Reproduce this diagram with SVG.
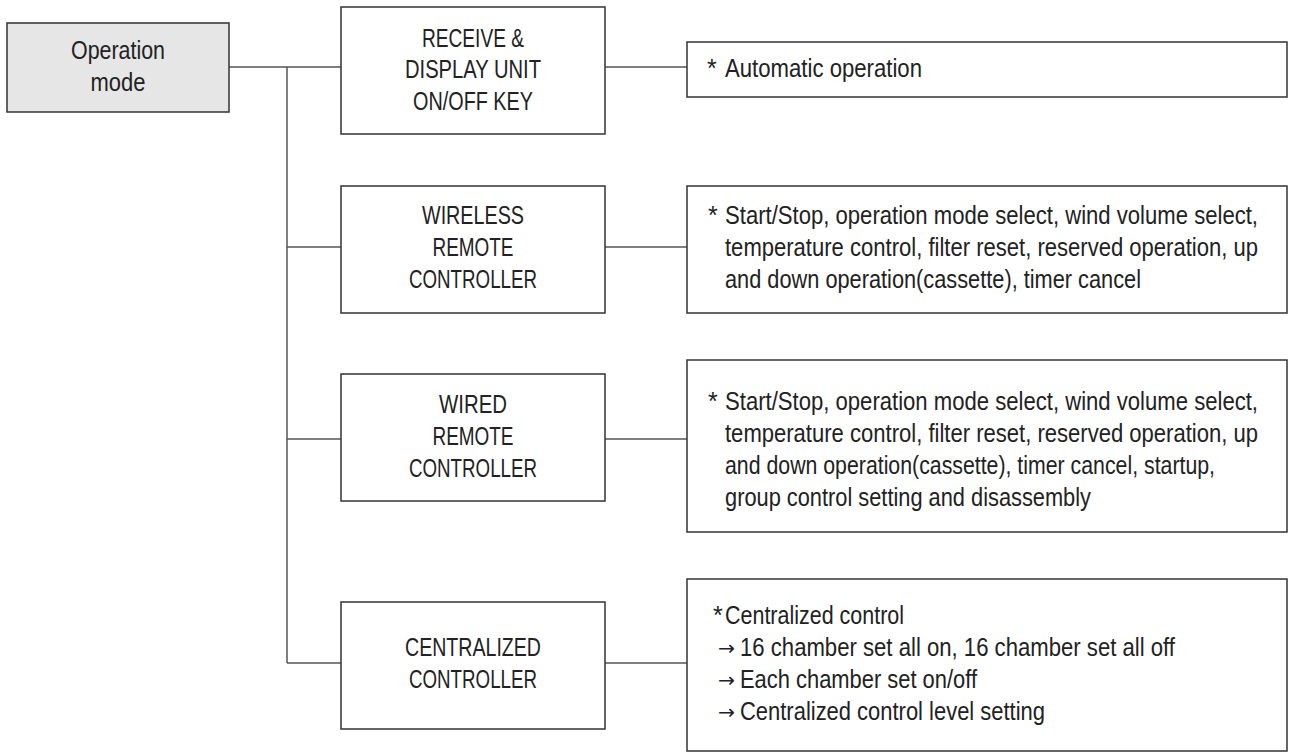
<svg xmlns="http://www.w3.org/2000/svg" width="1289" height="752" viewBox="0 0 1289 752">
<style>
.box{fill:#ffffff;stroke:#333333;stroke-width:1.5}
.root{fill:#e6e6e6;stroke:#333333;stroke-width:1.5}
.c{fill:none;stroke:#555555;stroke-width:1.5}
.nt{font-family:"Liberation Sans",Arial,sans-serif;font-size:26px;fill:#222222;text-anchor:middle}
.dt{font-family:"Liberation Sans",Arial,sans-serif;font-size:25px;fill:#222222}
.ar{font-family:"DejaVu Sans",sans-serif;font-size:20px;fill:#222222}
</style>
<rect width="1289" height="752" fill="#ffffff"/>
<g id="connectors">
<path class="c" d="M229 67H341M287 67V663M287 247H341M287 439H341M287 663H341"/>
<path class="c" d="M605 67H687M605 247H687M605 439H687M605 663H687"/>
</g>
<g id="operation-mode">
<rect class="root" x="7" y="23" width="222" height="89"/>
<text class="nt" x="118" y="59" textLength="94" lengthAdjust="spacingAndGlyphs">Operation</text>
<text class="nt" x="118" y="91" textLength="55" lengthAdjust="spacingAndGlyphs">mode</text>
</g>
<g id="receive-display">
<rect class="box" x="341" y="7" width="264" height="127"/>
<text class="nt" x="473" y="47" textLength="102" lengthAdjust="spacingAndGlyphs">RECEIVE &amp;</text>
<text class="nt" x="473" y="78" textLength="136" lengthAdjust="spacingAndGlyphs">DISPLAY UNIT</text>
<text class="nt" x="473" y="110" textLength="120" lengthAdjust="spacingAndGlyphs">ON/OFF KEY</text>
</g>
<g id="wireless">
<rect class="box" x="341" y="186" width="264" height="127"/>
<text class="nt" x="473" y="224" textLength="102" lengthAdjust="spacingAndGlyphs">WIRELESS</text>
<text class="nt" x="473" y="256" textLength="81" lengthAdjust="spacingAndGlyphs">REMOTE</text>
<text class="nt" x="473" y="288" textLength="128" lengthAdjust="spacingAndGlyphs">CONTROLLER</text>
</g>
<g id="wired">
<rect class="box" x="341" y="374" width="264" height="127"/>
<text class="nt" x="473" y="413" textLength="68" lengthAdjust="spacingAndGlyphs">WIRED</text>
<text class="nt" x="473" y="445" textLength="81" lengthAdjust="spacingAndGlyphs">REMOTE</text>
<text class="nt" x="473" y="477" textLength="128" lengthAdjust="spacingAndGlyphs">CONTROLLER</text>
</g>
<g id="centralized">
<rect class="box" x="341" y="602" width="264" height="127"/>
<text class="nt" x="473" y="656" textLength="136" lengthAdjust="spacingAndGlyphs">CENTRALIZED</text>
<text class="nt" x="473" y="688" textLength="128" lengthAdjust="spacingAndGlyphs">CONTROLLER</text>
</g>
<g id="desc-auto">
<rect class="box" x="687" y="42" width="600" height="55"/>
<text class="dt" x="707" y="77">*</text>
<text class="dt" x="725" y="77" textLength="197" lengthAdjust="spacingAndGlyphs">Automatic operation</text>
</g>
<g id="desc-wireless">
<rect class="box" x="687" y="186" width="600" height="127"/>
<text class="dt" x="708" y="224">*</text>
<text class="dt" x="725" y="224" textLength="533" lengthAdjust="spacingAndGlyphs">Start/Stop, operation mode select, wind volume select,</text>
<text class="dt" x="725" y="256" textLength="533" lengthAdjust="spacingAndGlyphs">temperature control, filter reset, reserved operation, up</text>
<text class="dt" x="725" y="288" textLength="416" lengthAdjust="spacingAndGlyphs">and down operation(cassette), timer cancel</text>
</g>
<g id="desc-wired">
<rect class="box" x="687" y="360" width="600" height="172"/>
<text class="dt" x="708" y="410">*</text>
<text class="dt" x="725" y="410" textLength="533" lengthAdjust="spacingAndGlyphs">Start/Stop, operation mode select, wind volume select,</text>
<text class="dt" x="725" y="442" textLength="533" lengthAdjust="spacingAndGlyphs">temperature control, filter reset, reserved operation, up</text>
<text class="dt" x="725" y="474" textLength="490" lengthAdjust="spacingAndGlyphs">and down operation(cassette), timer cancel, startup,</text>
<text class="dt" x="725" y="506" textLength="366" lengthAdjust="spacingAndGlyphs">group control setting and disassembly</text>
</g>
<g id="desc-centralized">
<rect class="box" x="687" y="579" width="600" height="172"/>
<text class="dt" x="713" y="624">*</text>
<text class="dt" x="725" y="624" textLength="179" lengthAdjust="spacingAndGlyphs">Centralized control</text>
<text class="ar" x="718" y="655" textLength="17" lengthAdjust="spacingAndGlyphs">→</text>
<text class="dt" x="740" y="656" textLength="435" lengthAdjust="spacingAndGlyphs">16 chamber set all on, 16 chamber set all off</text>
<text class="ar" x="718" y="687" textLength="17" lengthAdjust="spacingAndGlyphs">→</text>
<text class="dt" x="740" y="688" textLength="237" lengthAdjust="spacingAndGlyphs">Each chamber set on/off</text>
<text class="ar" x="718" y="719" textLength="17" lengthAdjust="spacingAndGlyphs">→</text>
<text class="dt" x="740" y="720" textLength="305" lengthAdjust="spacingAndGlyphs">Centralized control level setting</text>
</g>
</svg>
